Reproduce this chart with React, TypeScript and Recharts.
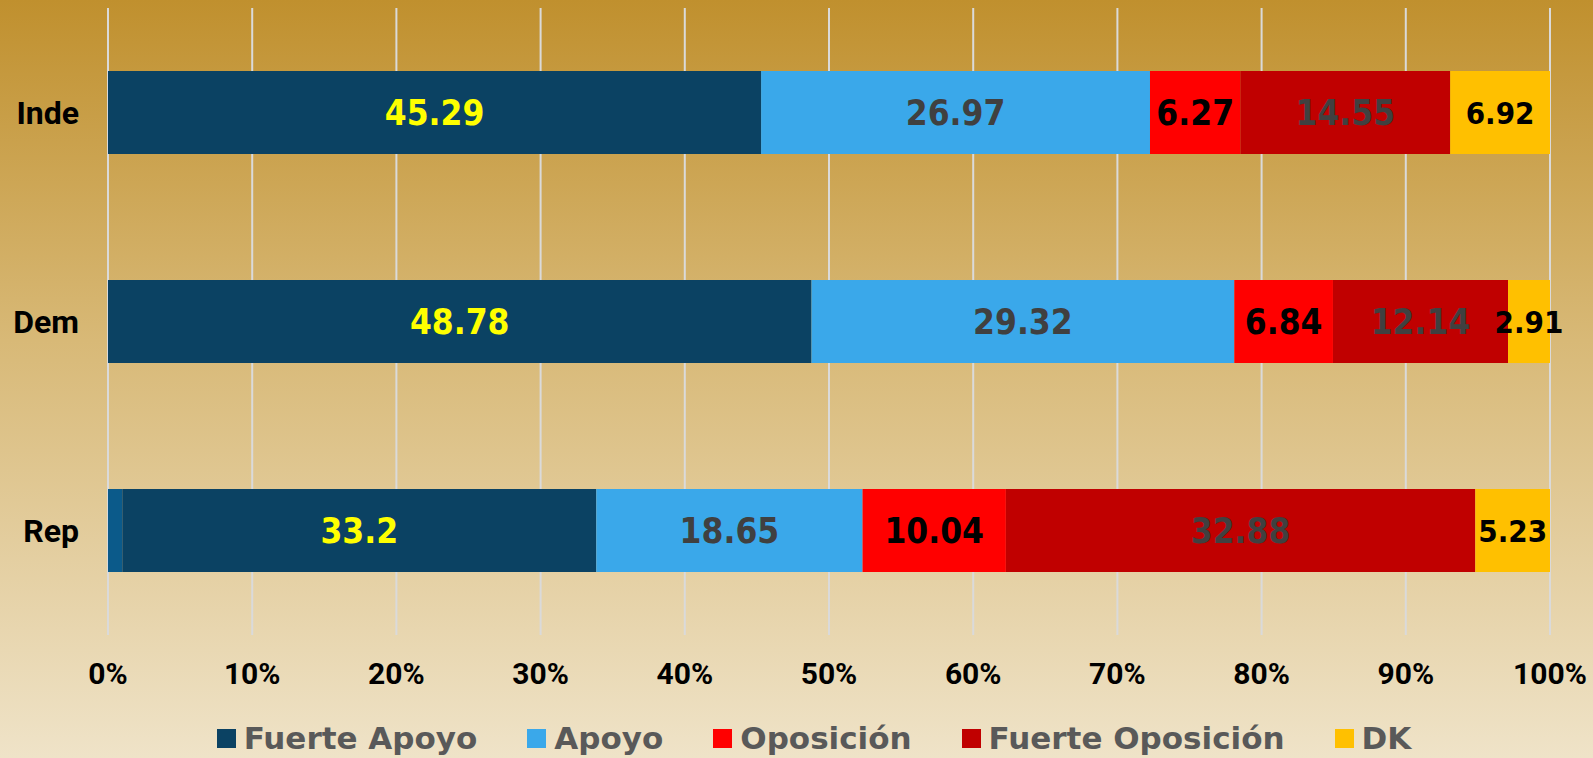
import React from 'react';
import {
  BarChart,
  Bar,
  XAxis,
  YAxis,
  CartesianGrid,
  LabelList
} from 'recharts';

const categories = ['Inde', 'Dem', 'Rep'];
const otro = [0, 0, 1.0];
const fuerteApoyo = [45.29, 48.78, 33.2];
const apoyo = [26.97, 29.32, 18.65];
const oposicion = [6.27, 6.84, 10.04];
const fuerteOposicion = [14.55, 12.14, 32.88];
const dk = [6.92, 2.91, 5.23];
const xTicks = [0, 0.1, 0.2, 0.3, 0.4, 0.5, 0.6, 0.7, 0.8, 0.9, 1];

const data = categories.map((name, i) => ({
  name,
  otro: otro[i],
  fuerteApoyo: fuerteApoyo[i],
  apoyo: apoyo[i],
  oposicion: oposicion[i],
  fuerteOposicion: fuerteOposicion[i],
  dk: dk[i]
}));

const series = [
  { key: 'fuerteApoyo', name: 'Fuerte Apoyo', color: '#0B4263', label: '#FFFF00', size: 35 },
  { key: 'apoyo', name: 'Apoyo', color: '#3AA8EA', label: '#404040', size: 35 },
  { key: 'oposicion', name: 'Oposición', color: '#FF0000', label: '#000000', size: 35 },
  { key: 'fuerteOposicion', name: 'Fuerte Oposición', color: '#C00000', label: '#404040', size: 35 },
  { key: 'dk', name: 'DK', color: '#FFC000', label: '#000000', size: 31 }
];

const xFont = { fontFamily: 'Roboto', fontWeight: 700, fontSize: 30, fill: '#000000' };
const yFont = { fontFamily: 'Roboto', fontWeight: 700, fontSize: 32, fill: '#000000' };

const App: React.FC = () => {
  return (
    <div
      style={{
        position: 'absolute',
        left: 0,
        top: 0,
        width: 1593,
        height: 758,
        background: 'linear-gradient(to bottom, #C0902E 0%, #D8B977 45%, #EFE3C8 100%)'
      }}
    >
      <BarChart
        width={1593}
        height={758}
        data={data}
        layout="vertical"
        stackOffset="expand"
        margin={{ top: 8, right: 43, left: 0, bottom: 63 }}
      >
        <CartesianGrid horizontal={false} stroke="#DADADA" strokeWidth={2} />
        <XAxis
          type="number"
          domain={[0, 1]}
          ticks={xTicks}
          tickFormatter={(v) => `${Math.round(v * 100)}%`}
          axisLine={false}
          tickLine={false}
          tickMargin={22}
          height={60}
          tick={xFont}
          interval={0}
        />
        <YAxis
          type="category"
          dataKey="name"
          width={108}
          axisLine={false}
          tickLine={false}
          tickMargin={23}
          tick={yFont}
        />
        <Bar dataKey="otro" stackId="a" fill="#0B5A8A" barSize={83} isAnimationActive={false} />
        {series.map((s) => (
          <Bar
            key={s.key}
            dataKey={s.key}
            name={s.name}
            stackId="a"
            fill={s.color}
            barSize={83}
            isAnimationActive={false}
          >
            <LabelList
              dataKey={s.key}
              position="center"
              fill={s.label}
              style={{ fontFamily: 'DejaVu Sans Condensed, DejaVu Sans', fontWeight: 700, fontSize: s.size }}
            />
          </Bar>
        ))}
      </BarChart>
      <div
        style={{
          position: 'absolute',
          left: 0,
          top: 720,
          width: 1593,
          boxSizing: 'border-box',
          paddingLeft: 35,
          display: 'flex',
          justifyContent: 'center',
          alignItems: 'center',
          gap: 50,
          fontFamily: 'DejaVu Sans',
          fontWeight: 700,
          fontSize: 31,
          color: '#595959'
        }}
      >
        {series.map((s) => (
          <div key={s.key} style={{ display: 'flex', alignItems: 'center' }}>
            <span style={{ width: 19, height: 19, background: s.color, marginRight: 8 }} />
            <span>{s.name}</span>
          </div>
        ))}
      </div>
    </div>
  );
};

export default App;
